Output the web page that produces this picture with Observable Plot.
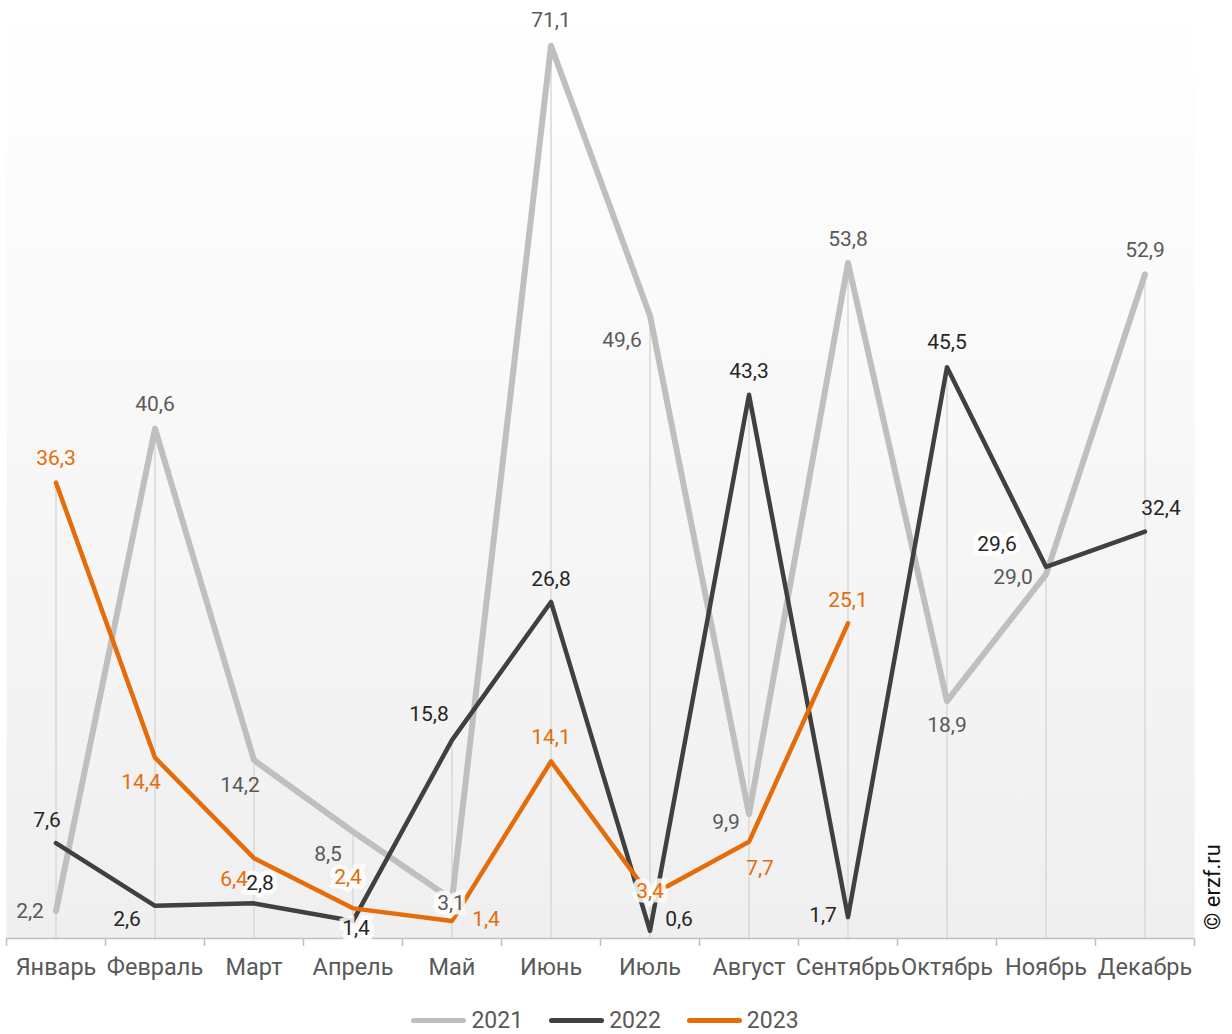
<!DOCTYPE html>
<html><head><meta charset="utf-8">
<script src="https://cdn.jsdelivr.net/npm/d3@7"></script>
<script src="https://cdn.jsdelivr.net/npm/@observablehq/plot@0.6"></script>
<style>
body{margin:0;background:#fff;font-family:Roboto,sans-serif;}
#wrap{position:relative;width:1232px;height:1034px;}
#legend{position:absolute;left:0;top:1007px;width:1210px;display:flex;justify-content:center;gap:26px;font-size:23px;color:#595959;}
#legend .it{display:flex;align-items:center;gap:5px;}
#legend .sw{width:55px;height:5px;border-radius:3px;}
#copy{position:absolute;left:1212px;top:887px;transform:translate(-50%,-50%) rotate(-90deg);font-size:22px;color:#111;white-space:nowrap;}
</style></head>
<body><div id="wrap"><div id="chart"></div><div id="legend"></div><div id="copy">© erzf.ru</div></div>
<script>
const months = ["Январь","Февраль","Март","Апрель","Май","Июнь","Июль","Август","Сентябрь","Октябрь","Ноябрь","Декабрь"];
const v2021 = [2.2, 40.6, 14.2, 8.5, 3.1, 71.1, 49.6, 9.9, 53.8, 18.9, 29.0, 52.9];
const v2022 = [7.6, 2.6, 2.8, 1.4, 15.8, 26.8, 0.6, 43.3, 1.7, 45.5, 29.6, 32.4];
const v2023 = [36.3, 14.4, 6.4, 2.4, 1.4, 14.1, 3.4, 7.7, 25.1];
const years = ["2021","2022","2023"];
const colors = {"2021":"#bfbfbf","2022":"#404040","2023":"#e46c0a"};
const textColors = {"2021":"#595959","2022":"#262626","2023":"#e46c0a"};
// label offsets (dx, dy) per series
const off2021 = [[-26,0],[0,-24],[-14,25],[-25,22],[-1,4],[0,-25],[-28,25],[-23,8],[0,-24],[0,24],[-33,3],[0,-24]];
const off2022 = [[-9,-23],[-28,13],[6,-20],[3,7],[-23,-26],[0,-23],[29,-12],[0,-24],[-25,-2],[0,-25],[-49,-23],[16,-23]];
const off2023 = [[0,-24],[-14,25],[-20,21],[-5,-31],[34,-2],[0,-24],[0,-5],[11,26],[0,-23]];
// labels drawn on a white box
const box2021 = [4];
const box2022 = [2, 3, 10];
const box2023 = [3, 6];

const series = {"2021":v2021,"2022":v2022,"2023":v2023};
const offs = {"2021":off2021,"2022":off2022,"2023":off2023};
const boxes = {"2021":box2021,"2022":box2022,"2023":box2023};
const rows = [];
for (const y of years) series[y].forEach((v,i)=>rows.push({year:y, i, v, dx:offs[y][i][0], dy:offs[y][i][1], box:boxes[y].includes(i)}));
const maxes = months.map((m,i)=>({i, v:d3.max(years.map(y=>series[y][i]).filter(v=>v!=null))}));
const fmt = v => v.toFixed(1).replace(".", ",");

const plot = Plot.plot({
  width: 1232, height: 1000,
  marginLeft: 6, marginRight: 38, marginTop: 0, marginBottom: 62,
  style: {fontFamily: "Roboto, sans-serif", background: "transparent"},
  x: {domain: [-0.5, 11.5], axis: null},
  y: {domain: [0, 74.7], axis: null},
  marks: [
    Plot.frame({fill: "url(#bggrad)", stroke: null}),
    Plot.ruleX(maxes, {x: "i", y1: 0, y2: "v", stroke: "#d9d9d9", strokeWidth: 1.5}),
    Plot.ruleY([0], {stroke: "#bfbfbf", strokeWidth: 1.5}),
    Plot.axisX({ticks: d3.range(-0.5, 12, 1), tickSize: 8, tickFormat: () => "", label: null, stroke: "#bfbfbf", strokeWidth: 1.5}),
    Plot.axisX({ticks: d3.range(0, 12), tickSize: 0, tickPadding: 20, tickFormat: i => months[i], label: null, fontSize: 23.5, fill: "#595959"}),
    ...years.map(y => Plot.line(rows.filter(r => r.year === y), {x: "i", y: "v", stroke: colors[y], strokeWidth: y === "2021" ? 6 : 4.5, strokeLinejoin: "round", strokeLinecap: "round"})),
    ...rows.map(r => Plot.text([r], {x: "i", y: "v", text: d => fmt(d.v), fill: textColors[r.year], fontSize: 21,
      dx: r.dx, dy: r.dy,
      ...(r.box ? {stroke: "white", strokeOpacity: 0.85, strokeWidth: 9, strokeLinejoin: "miter"} : {})
    }))
  ]
});
document.getElementById("chart").appendChild(plot);
const svg = d3.select(plot);
const defs = svg.insert("defs", ":first-child");
const g = defs.append("linearGradient").attr("id","bggrad").attr("x1",0).attr("y1",0).attr("x2",0).attr("y2",1);
g.append("stop").attr("offset","0%").attr("stop-color","#ffffff");
g.append("stop").attr("offset","100%").attr("stop-color","#efefef");
const leg = d3.select("#legend");
years.forEach(y => {
  const it = leg.append("div").attr("class","it");
  it.append("div").attr("class","sw").style("background", colors[y]);
  it.append("span").text(y);
});
</script></body></html>
